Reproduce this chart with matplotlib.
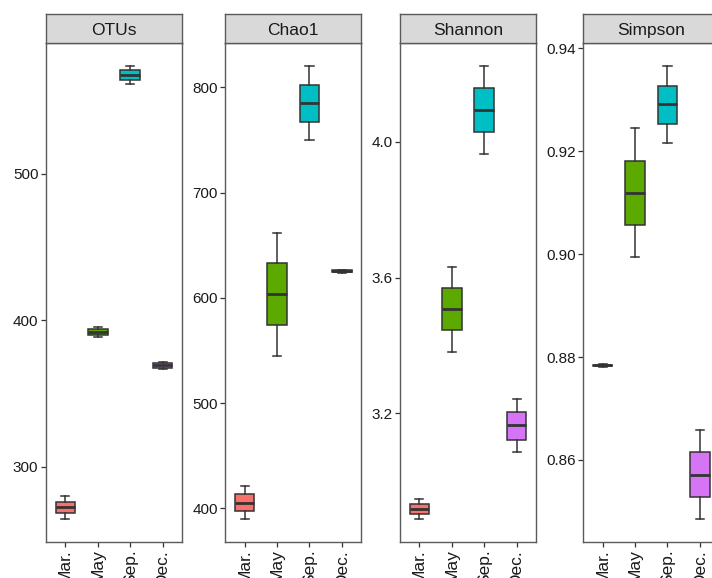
import matplotlib
matplotlib.use("Agg")
import matplotlib.pyplot as plt

plt.rcParams['font.family'] = ['Liberation Sans', 'DejaVu Sans']

months = ["Mar.", "May", "Sep.", "Dec."]
colors = ["#F8716A", "#5CAA00", "#00BFC4", "#D674F6"]
metrics = ["OTUs", "Chao1", "Shannon", "Simpson"]

# per metric: [whislo, q1, med, q3, whishi] for Mar., May, Sep., Dec.
otus = [[264.3, 268.2, 272.3, 276.1, 280.0],
        [388.2, 389.8, 391.8, 393.7, 395.2],
        [561.2, 563.8, 567.2, 570.6, 573.7],
        [366.8, 367.5, 369.3, 370.9, 371.6]]
chao1 = [[389.8, 397.7, 405.0, 413.3, 421.2],
         [544.9, 574.1, 603.5, 633.0, 661.7],
         [749.6, 766.7, 784.8, 802.2, 820.2],
         [624.0, 624.8, 625.4, 626.0, 626.6]]
shannon = [[2.889, 2.905, 2.919, 2.933, 2.948],
           [3.382, 3.445, 3.508, 3.569, 3.630],
           [3.965, 4.029, 4.095, 4.158, 4.222],
           [3.085, 3.122, 3.165, 3.203, 3.241]]
simpson = [[0.87806, 0.87820, 0.87838, 0.87852, 0.87864],
           [0.89944, 0.90571, 0.91193, 0.91815, 0.92451],
           [0.92165, 0.92535, 0.92912, 0.93273, 0.93650],
           [0.84857, 0.85273, 0.85712, 0.86148, 0.86587]]
data = [otus, chao1, shannon, simpson]

ylims = [(248.8, 589.0), (368.3, 841.8), (2.822, 4.290), (0.8441, 0.9410)]
yticks = [[300, 400, 500], [400, 500, 600, 700, 800],
          [3.2, 3.6, 4.0], [0.86, 0.88, 0.90, 0.92, 0.94]]
yticklabels = [["300", "400", "500"], ["400", "500", "600", "700", "800"],
               ["3.2", "3.6", "4.0"], ["0.86", "0.88", "0.90", "0.92", "0.94"]]

W, H = 712, 578
fig = plt.figure(figsize=(W / 100, H / 100), dpi=100)

lefts = [46, 225.3, 400, 583.3]
pw = 136
top, bottom = 43.3, 541.7
strip_top = 14
edge = "#5a5a5a"
line = "#333333"

for i, m in enumerate(metrics):
    ax = fig.add_axes([lefts[i] / W, (H - bottom) / H, pw / W, (bottom - top) / H])
    stats = []
    for j, v in enumerate(data[i]):
        stats.append(dict(whislo=v[0], q1=v[1], med=v[2], q3=v[3], whishi=v[4], fliers=[]))
    bp = ax.bxp(stats, positions=range(1, 5), widths=0.6, capwidths=0.25,
                patch_artist=True, showfliers=False,
                boxprops=dict(edgecolor=line, linewidth=1.1),
                whiskerprops=dict(color=line, linewidth=1.1),
                capprops=dict(color=line, linewidth=1.1),
                medianprops=dict(color=line, linewidth=2.0))
    for patch, c in zip(bp['boxes'], colors):
        patch.set_facecolor(c)
    ax.set_xlim(0.4, 4.6)
    ax.set_ylim(*ylims[i])
    ax.set_xticks(range(1, 5))
    ax.set_xticklabels(months, rotation=90, va='top', ha='center')
    ax.set_yticks(yticks[i])
    ax.set_yticklabels(yticklabels[i])
    ax.tick_params(axis='both', length=3.5, width=0.9, color=line,
                   labelcolor="#1a1a1a", pad=2)
    ax.tick_params(axis='y', labelsize=11)
    ax.tick_params(axis='x', labelsize=12.5)
    for s in ax.spines.values():
        s.set_color(edge)
        s.set_linewidth(1.0)
    ax.set_facecolor("white")

    sax = fig.add_axes([lefts[i] / W, (H - top) / H, pw / W, (top - strip_top) / H])
    sax.set_facecolor("#D9D9D9")
    sax.set_xticks([])
    sax.set_yticks([])
    for s in sax.spines.values():
        s.set_color(edge)
        s.set_linewidth(1.0)
    sax.text(0.5, 0.45, m, ha='center', va='center', fontsize=12.5,
             color="#1a1a1a", transform=sax.transAxes)

fig.savefig("out.png", dpi=100)
